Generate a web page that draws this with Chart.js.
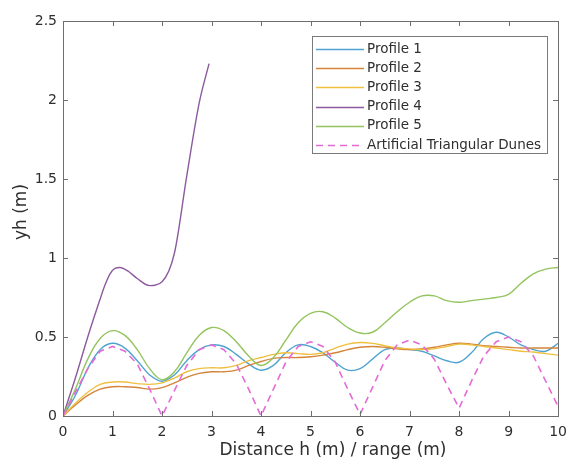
<!DOCTYPE html>
<html>
<head>
<meta charset="utf-8">
<script src="https://cdn.jsdelivr.net/npm/chart.js@4.4.1/dist/chart.umd.min.js"></script>
<style>
  html, body { margin: 0; padding: 0; background: #ffffff; }
  #wrap { position: relative; width: 575px; height: 461px; }
</style>
</head>
<body>
<div id="wrap"><canvas id="c" width="575" height="461"></canvas></div>
<script>
// ---- data ----
const xTitle = "Distance h (m) / range (m)";
const yTitle = "yh (m)";
const seriesLabels = ["Profile 1", "Profile 2", "Profile 3", "Profile 4", "Profile 5", "Artificial Triangular Dunes"];

const xCommon = [0, 0.25, 0.5, 0.75, 1, 1.25, 1.5, 1.75, 2, 2.25, 2.5, 2.75, 3, 3.25, 3.5, 3.75, 4, 4.25, 4.5, 4.75, 5,
                 5.25, 5.5, 5.75, 6, 6.25, 6.5, 6.75, 7, 7.25, 7.5, 7.75, 8, 8.25, 8.5, 8.75, 9, 9.25, 9.5, 9.75, 10];

const profile1 = [0, 0.13, 0.30, 0.42, 0.46, 0.43, 0.35, 0.26, 0.22, 0.26, 0.35, 0.42, 0.45, 0.44, 0.39, 0.33, 0.29, 0.32, 0.40, 0.45, 0.44,
                  0.40, 0.34, 0.29, 0.30, 0.36, 0.42, 0.43, 0.42, 0.41, 0.38, 0.35, 0.34, 0.40, 0.49, 0.53, 0.50, 0.45, 0.42, 0.41, 0.46];
const profile2 = [0, 0.07, 0.13, 0.17, 0.185, 0.185, 0.18, 0.17, 0.18, 0.21, 0.245, 0.27, 0.28, 0.28, 0.29, 0.32, 0.345, 0.365, 0.37, 0.37, 0.375,
                  0.385, 0.40, 0.42, 0.435, 0.44, 0.435, 0.425, 0.42, 0.425, 0.435, 0.45, 0.46, 0.455, 0.445, 0.44, 0.435, 0.43, 0.43, 0.43, 0.43];
const profile3 = [0, 0.08, 0.15, 0.20, 0.215, 0.215, 0.205, 0.20, 0.21, 0.24, 0.28, 0.30, 0.305, 0.305, 0.32, 0.35, 0.37, 0.39, 0.40, 0.395, 0.39,
                  0.40, 0.43, 0.455, 0.465, 0.46, 0.445, 0.43, 0.425, 0.42, 0.425, 0.44, 0.455, 0.45, 0.44, 0.43, 0.42, 0.41, 0.405, 0.395, 0.385];
const profile5 = [0, 0.17, 0.36, 0.49, 0.54, 0.51, 0.42, 0.30, 0.23, 0.28, 0.40, 0.51, 0.56, 0.54, 0.47, 0.38, 0.32, 0.37, 0.48, 0.59, 0.65,
                  0.66, 0.62, 0.56, 0.525, 0.53, 0.59, 0.66, 0.72, 0.76, 0.76, 0.73, 0.72, 0.73, 0.74, 0.75, 0.77, 0.84, 0.90, 0.93, 0.94];
const dunes    = [0, 0.15, 0.30, 0.41, 0.44, 0.41, 0.33, 0.17, 0, 0.16, 0.32, 0.42, 0.45, 0.42, 0.33, 0.17, 0, 0.17, 0.34, 0.44, 0.47,
                  0.44, 0.34, 0.17, 0.01, 0.18, 0.35, 0.45, 0.48, 0.45, 0.36, 0.20, 0.05, 0.22, 0.38, 0.47, 0.50, 0.47, 0.38, 0.22, 0.06];

const xProfile4 = [0, 0.25, 0.5, 0.75, 0.85, 0.95, 1.05, 1.15, 1.3, 1.5, 1.75, 2, 2.25, 2.5, 2.75, 2.95];
const profile4  = [0, 0.24, 0.50, 0.74, 0.83, 0.90, 0.935, 0.94, 0.92, 0.87, 0.825, 0.85, 1.03, 1.52, 1.98, 2.23];

const xTicks = [0, 1, 2, 3, 4, 5, 6, 7, 8, 9, 10];
const yTicks = [0, 0.5, 1, 1.5, 2, 2.5];

// ---- build ----
const pts = (xs, ys) => xs.map((x, i) => ({ x: x, y: ys[i] }));
const colors = ["#4fa3d1", "#d4853a", "#efc040", "#8c5a9e", "#93c45e", "#e46ad6"];
const FONT = "'DejaVu Sans', Verdana, sans-serif";
const AXIS_COLOR = "#6e6e6e";
const TEXT_COLOR = "#2e2e2e";

function ds(i, data, extra) {
  return Object.assign({
    label: seriesLabels[i],
    data: data,
    borderColor: colors[i],
    backgroundColor: colors[i],
    borderWidth: 1.4,
    pointRadius: 0,
    tension: 0.4,
    fill: false,
    order: 6 - i
  }, extra || {});
}

const datasets = [
  ds(0, pts(xCommon, profile1)),
  ds(1, pts(xCommon, profile2)),
  ds(2, pts(xCommon, profile3)),
  ds(3, pts(xProfile4, profile4), { cubicInterpolationMode: "monotone" }),
  ds(4, pts(xCommon, profile5)),
  ds(5, pts(xCommon, dunes), { borderDash: [7, 5], tension: 0, borderWidth: 1.6 })
];

// box + inward ticks + axis titles
const framePlugin = {
  id: "frame",
  afterDatasetsDraw(chart) {
    const { ctx, chartArea: a, scales } = chart;
    ctx.save();
    ctx.strokeStyle = AXIS_COLOR;
    ctx.lineWidth = 1;
    ctx.strokeRect(Math.round(a.left) + 0.5, Math.round(a.top) + 0.5,
                   Math.round(a.right - a.left), Math.round(a.bottom - a.top));
    const tl = 5;
    ctx.beginPath();
    xTicks.forEach(v => {
      const px = Math.round(scales.x.getPixelForValue(v)) + 0.5;
      ctx.moveTo(px, a.bottom); ctx.lineTo(px, a.bottom - tl);
      ctx.moveTo(px, a.top); ctx.lineTo(px, a.top + tl);
    });
    yTicks.forEach(v => {
      const py = Math.round(scales.y.getPixelForValue(v)) + 0.5;
      ctx.moveTo(a.left, py); ctx.lineTo(a.left + tl, py);
      ctx.moveTo(a.right, py); ctx.lineTo(a.right - tl, py);
    });
    ctx.stroke();

    // axis titles
    ctx.fillStyle = TEXT_COLOR;
    ctx.font = "17px " + FONT;
    ctx.textAlign = "center";
    ctx.textBaseline = "middle";
    ctx.fillText(xTitle, 333, 451);
    ctx.translate(22, 212);
    ctx.rotate(-Math.PI / 2);
    ctx.fillText(yTitle, 0, 0);
    ctx.restore();
  }
};

// legend inside plot, top-right
const legendPlugin = {
  id: "insideLegend",
  afterDatasetsDraw(chart) {
    const { ctx } = chart;
    const bx = 312, by = 36, bw = 235, bh = 117;
    ctx.save();
    ctx.fillStyle = "#ffffff";
    ctx.fillRect(bx, by, bw, bh);
    ctx.strokeStyle = "#7a7a7a";
    ctx.lineWidth = 1;
    ctx.strokeRect(bx + 0.5, by + 0.5, bw, bh);
    ctx.font = "13.5px " + FONT;
    ctx.textAlign = "left";
    ctx.textBaseline = "middle";
    chart.data.datasets.forEach((d, i) => {
      const cy = by + 13 + i * 19.2;
      ctx.strokeStyle = d.borderColor;
      ctx.lineWidth = d.borderWidth;
      ctx.setLineDash(d.borderDash || []);
      ctx.beginPath();
      ctx.moveTo(bx + 4, Math.round(cy) + 0.5);
      ctx.lineTo(bx + 52, Math.round(cy) + 0.5);
      ctx.stroke();
      ctx.setLineDash([]);
      ctx.fillStyle = TEXT_COLOR;
      ctx.fillText(d.label, bx + 55, cy);
    });
    ctx.restore();
  }
};

const fmt = v => String(Math.round(v * 10) / 10);

new Chart(document.getElementById("c"), {
  type: "line",
  data: { datasets: datasets },
  options: {
    responsive: false,
    animation: false,
    layout: { padding: { left: 0, right: 12, top: 21, bottom: 0 } },
    plugins: { legend: { display: false }, tooltip: { enabled: false } },
    scales: {
      x: {
        type: "linear",
        min: 0, max: 10,
        afterFit(s) { s.height = 45; },
        afterBuildTicks(s) { s.ticks = xTicks.map(v => ({ value: v })); },
        grid: { display: false, drawTicks: false },
        border: { display: false },
        ticks: { color: TEXT_COLOR, font: { family: FONT, size: 14 }, padding: 8, maxRotation: 0, callback: fmt }
      },
      y: {
        type: "linear",
        min: 0, max: 2.5,
        afterFit(s) { s.width = 63; },
        afterBuildTicks(s) { s.ticks = yTicks.map(v => ({ value: v })); },
        grid: { display: false, drawTicks: false },
        border: { display: false },
        ticks: { color: TEXT_COLOR, font: { family: FONT, size: 14 }, padding: 6, callback: fmt }
      }
    }
  },
  plugins: [framePlugin, legendPlugin]
});
</script>
</body>
</html>
